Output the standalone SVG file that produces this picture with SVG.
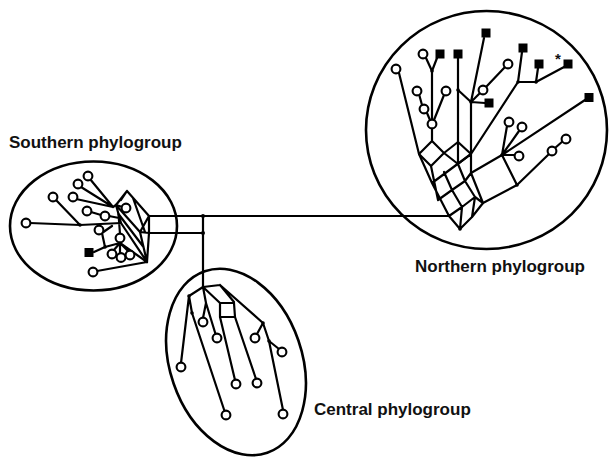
<svg xmlns="http://www.w3.org/2000/svg" width="609" height="457" viewBox="0 0 609 457">
<style>
.bg{fill:#ffffff}
.e{fill:none;stroke:#000;stroke-width:2.6}
.l{fill:none;stroke:#000;stroke-width:2.2;stroke-linejoin:round;stroke-linecap:round}
.c{fill:#fff;stroke:#000;stroke-width:2.1}
.s{fill:#000}
.d{fill:#000}
.t{font-family:"Liberation Sans",Arial,sans-serif;font-weight:bold;font-size:17px;fill:#111}
.a{font-family:"Liberation Sans",Arial,sans-serif;font-weight:bold;font-size:15px;fill:#111}
</style>
<rect class="bg" x="0" y="0" width="609" height="457"/>

<!-- group outlines -->
<g id="southern-group">
<ellipse class="e" cx="93.5" cy="226" rx="83.5" ry="64.5"/>
<text class="t" x="9" y="148">Southern phylogroup</text>
</g>
<g id="northern-group">
<ellipse class="e" cx="486.5" cy="130" rx="120.5" ry="119"/>
<text class="t" x="415" y="272">Northern phylogroup</text>
</g>
<g id="central-group">
<ellipse class="e" cx="236" cy="362" rx="66" ry="96" transform="rotate(-19 236 362)"/>
<text class="t" x="314" y="415">Central phylogroup</text>
</g>

<!-- connectors -->
<g id="connectors">
<!-- main links between groups -->
<path class="l" d="M149 216H449M149 233H203M203 216V287"/>
<circle class="d" cx="203" cy="216" r="2"/>
<circle class="d" cx="203" cy="233" r="2"/>

<!-- southern network -->
<path class="l" d="M127 191L116 205L140 232L149 216Z M149 216V233L147 262 M140 232L147 262 M116 205L121 223L147 262 M118.5 214L143.5 247 M127 191L121 200 M149 233L140 232 M133 198L145 232"/>
<path class="l" d="M30 223L80 225L121 223 M56 200L80 225 M90 179L113 207L116 205 M81 187L113 207 M76 199L113 207 M91 212L101 215 M109 216L119 218 M129 209L116 205 M102 233L112 226 M102 233L105 247 M94 252L105 247L120 243 M120 243L113 251 M120 243L120 253 M120 243L128 251 M120 243L147 262 M97 271L147 262 M120 234L118.5 214"/>
<circle class="d" cx="80" cy="225" r="1.8"/>
<circle class="d" cx="105" cy="247" r="1.8"/>

<!-- central network -->
<path class="l" d="M203 287L189 296L192 313 M203 287L220 285 M203 287L206 303 M203 287L220 303 M220 285L234 302 M220 303H234L235 317H220Z M220 285L263 323L269 341 M189 296L181 363 M192 313L224.5 411 M206 303L203 318 M206 303L215.5 334 M220 317L235 380 M235 317L256 379 M263 323L257 334 M269 341L279 349 M269 341L283 410"/>
<circle class="d" cx="189" cy="296" r="1.8"/>
<circle class="d" cx="192" cy="313" r="1.8"/>
<circle class="d" cx="263" cy="323" r="1.8"/>
<circle class="d" cx="269" cy="341" r="1.8"/>

<!-- northern network -->
<path class="l" d="M432 141L419 154L431 166L444 153Z M458 142L444 153L458 164L471 154Z M458 142V164 M432 141V128"/>
<path class="l" d="M419 154L432 183L449 216L460 229L472 217L483 203L471 173L471 154 M432 183L471 154 M438 200L452 190L465 181L471 173 M449 216L462 207L475 197L483 203 M431 166L438 200 M444 172L452 190L462 207 M458 164L465 181L475 197 M460 229L462 207 M472 217L475 197"/>
<path class="l" d="M471 173L502 155L517 185L483 203"/>
<path class="l" d="M399 73L419 154 M426 58L432 71L437 58 M432 71V120 M419 94L422 105 M427 113L430 120 M444 95L434 120 M458 58V142 M458 90L471 102L484 38 M471 102L480 93 M486 87L505 67 M471 102L485 103 M471 102V154 M518 82L522 52 M518 82L536 82L538 68 M536 82L564 67 M518 82L471 154 M585 100L502 155 M502 155L507 126 M502 155L519 131 M502 155H515 M517 185L549 154 M555 148L563 141"/>
<circle class="d" cx="432" cy="71" r="1.8"/>
<circle class="d" cx="458" cy="90" r="1.8"/>
<circle class="d" cx="471" cy="102" r="1.8"/>
<circle class="d" cx="518" cy="82" r="1.8"/>
<circle class="d" cx="536" cy="82" r="1.8"/>
<circle class="d" cx="502" cy="155" r="1.8"/>
<circle class="d" cx="517" cy="185" r="1.8"/>
<circle class="d" cx="460" cy="229" r="1.8"/>
</g>

<!-- southern leaves -->
<g id="southern-leaves">
<circle class="c" cx="26" cy="223" r="4.4"/>
<circle class="c" cx="53" cy="197" r="4.4"/>
<circle class="c" cx="88" cy="176" r="4.4"/>
<circle class="c" cx="78" cy="184" r="4.4"/>
<circle class="c" cx="73" cy="197" r="4.4"/>
<circle class="c" cx="87" cy="211" r="4.4"/>
<circle class="c" cx="105" cy="216" r="4.4"/>
<circle class="c" cx="126" cy="208" r="4.4"/>
<circle class="c" cx="99" cy="230" r="4.4"/>
<circle class="c" cx="120" cy="238" r="4.4"/>
<circle class="c" cx="112" cy="254" r="4.4"/>
<circle class="c" cx="121" cy="257.5" r="4.4"/>
<circle class="c" cx="130" cy="255" r="4.4"/>
<circle class="c" cx="93" cy="272" r="4.4"/>
<rect class="s" x="84.5" y="248" width="9" height="9"/>
</g>

<!-- central leaves -->
<g id="central-leaves">
<circle class="c" cx="181" cy="367" r="4.4"/>
<circle class="c" cx="203" cy="322" r="4.4"/>
<circle class="c" cx="217" cy="338" r="4.4"/>
<circle class="c" cx="255" cy="338" r="4.4"/>
<circle class="c" cx="282" cy="352" r="4.4"/>
<circle class="c" cx="236" cy="384" r="4.4"/>
<circle class="c" cx="257" cy="383" r="4.4"/>
<circle class="c" cx="226" cy="415" r="4.4"/>
<circle class="c" cx="283" cy="414" r="4.4"/>
</g>

<!-- northern leaves -->
<g id="northern-leaves">
<circle class="c" cx="396" cy="69" r="4.4"/>
<circle class="c" cx="423" cy="54" r="4.4"/>
<circle class="c" cx="417" cy="91" r="4.4"/>
<circle class="c" cx="424" cy="109" r="4.4"/>
<circle class="c" cx="446" cy="91" r="4.4"/>
<circle class="c" cx="432" cy="124" r="4.4"/>
<circle class="c" cx="483" cy="90" r="4.4"/>
<circle class="c" cx="508" cy="64" r="4.4"/>
<circle class="c" cx="509" cy="122" r="4.4"/>
<circle class="c" cx="522" cy="127" r="4.4"/>
<circle class="c" cx="519" cy="156" r="4.4"/>
<circle class="c" cx="552" cy="151" r="4.4"/>
<circle class="c" cx="566" cy="139" r="4.4"/>
<rect class="s" x="435.5" y="49.5" width="9" height="9"/>
<rect class="s" x="453.5" y="49.5" width="9" height="9"/>
<rect class="s" x="481.5" y="28.5" width="9" height="9"/>
<rect class="s" x="518.5" y="43.5" width="9" height="9"/>
<rect class="s" x="534.5" y="59.5" width="9" height="9"/>
<rect class="s" x="563.5" y="59.5" width="9" height="9"/>
<rect class="s" x="484.5" y="98.5" width="9" height="9"/>
<rect class="s" x="584.5" y="93" width="9" height="9"/>
<text class="a" x="555" y="64">*</text>
</g>
</svg>
